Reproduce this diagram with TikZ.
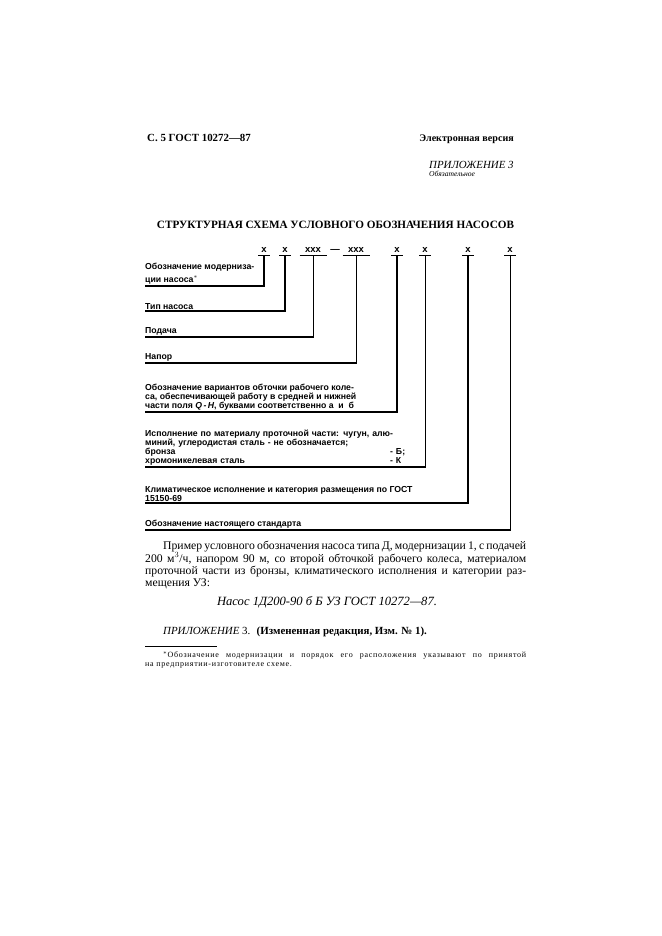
\documentclass[tikz,border=0pt]{standalone}
\usepackage{fontspec}
\setmainfont{Liberation Serif}
\setsansfont{Liberation Sans}
\newfontfamily\notefont[LetterSpace=9]{Liberation Serif}
\usetikzlibrary{positioning}
\usetikzlibrary{calc}
\tikzset{
    markx/.style = {font=\sffamily\bfseries\fontsize{9.5}{10}\selectfont,
        inner xsep=0pt, inner ysep=3pt, anchor=base},% знак позиции
    legend/.style = {font=\sffamily\bfseries\fontsize{8.7}{9}\selectfont,
        inner sep=0pt, align=left, anchor=south west},% пояснение
    bar/.style = {line width=1.1pt},% черта под знаком
    lead/.style = {line width=1.3pt},% толстая выноска
    leadthin/.style = {line width=0.7pt},% тонкая выноска
    body/.style = {font=\fontsize{11.7}{12}\selectfont, inner sep=0pt},
}

\begin{document}
\begin{tikzpicture}[x=1pt,y=-1pt]
\useasboundingbox (0,0) rectangle (661,936);
% шапка
\node[body, font=\bfseries\fontsize{10.9}{12}\selectfont, anchor=base west] (head) at (147,142) {С. 5 ГОСТ 10272---87};
\node[body, font=\bfseries\fontsize{10.1}{12}\selectfont, anchor=base east] (ver) at (514,142) {Электронная версия};
\node[body, font=\itshape\fontsize{10.9}{12}\selectfont, anchor=base west] (app) at (429,168) {ПРИЛОЖЕНИЕ 3};
\node[body, font=\itshape\fontsize{7.6}{9}\selectfont, anchor=base west] (oblig) at (429,177) {Обязательное};
\node[body, font=\bfseries\fontsize{11.2}{12}\selectfont, anchor=base] (title) at (335.5,228) {СТРУКТУРНАЯ СХЕМА УСЛОВНОГО ОБОЗНАЧЕНИЯ НАСОСОВ};
% знаки
\node[markx] (m1) at (264,252) {x};
\node[markx] (m2) at (285,252) {x};
\node[markx] (m3) at (313,252) {xxx};
\node[markx] (dash) at (335,252) {---};
\node[markx] (m4) at (356,252) {xxx};
\node[markx] (m5) at (397,252) {x};
\node[markx] (m6) at (425,252) {x};
\node[markx] (m7) at (468,252) {x};
\node[markx] (m8) at (510,252) {x};
\foreach \m in {m1,m2,m5,m6,m7,m8}
    \draw[bar] ([xshift=-6pt]\m.south) -- ([xshift=6pt]\m.south);
\foreach \m in {m3,m4}
    \draw[bar] ([xshift=-13.5pt]\m.south) -- ([xshift=13.5pt]\m.south);
% пояснения
\node[legend] (l1) at (145,284.5) {Обозначение модерниза-\\[4pt]ции насоса$^{\ast}$};
\node[legend] (l2) at (145,309.5) {Тип насоса};
\node[legend] (l3) at (145,335.5) {Подача};
\node[legend] (l4) at (145,361.5) {Напор};
\node[legend] (l5) at (145,410.5) {Обозначение вариантов обточки рабочего коле-\\
    са, обеспечивающей работу в средней и нижней\\
    части поля \textit{Q\,-\,H}, буквами соответственно а\ \ и\ \ б};
\node[legend, text width=257pt] (l6) at (145,465.5) {Исполнение по материалу проточной части: чугун, алю-\\
    миний, углеродистая сталь - не обозначается;\\
    бронза\hfill\makebox[12pt][l]{- Б;}\\
    хромоникелевая сталь\hfill\makebox[12pt][l]{- К}};
\node[legend] (l7) at (145,501.5) {Климатическое исполнение и категория размещения по ГОСТ\\
    15150-69};
\node[legend] (l8) at (145,528.5) {Обозначение настоящего стандарта};
% выноски
\coordinate (e1) at (145,286);
\coordinate (e2) at (145,311);
\coordinate (e3) at (145,337);
\coordinate (e4) at (145,363);
\coordinate (e5) at (145,412);
\coordinate (e6) at (145,467);
\coordinate (e7) at (145,503);
\coordinate (e8) at (145,530);
\draw[lead] (e1) -| (m1.south);
\draw[lead] (e2) -| (m2.south);
\draw[leadthin] (m3.south) |- (e3);
\draw[leadthin] (m4.south) |- (e4);
\draw[lead] (m5.south) |- (e5);
\draw[leadthin] (m6.south) |- (e6);
\draw[lead] (m7.south) |- (e7);
\draw[leadthin] (m8.south) |- (e8);
\draw[bar] (e3) -- (e3 -| m3.south);
\draw[bar] (e4) -- (e4 -| m4.south);
\draw[bar] (e6) -- (e6 -| m6.south);
\draw[bar] (e8) -- (e8 -| m8.south);
% пример
\node[body, text width=381pt, align=justify, anchor=base west] (ex) at (145,549) {\hspace*{18pt}Пример условного обозначения насоса типа Д, модернизации 1, с подачей\linebreak
    200 м$^3$/ч, напором 90 м, со второй обточкой рабочего колеса, материалом\linebreak
    проточной части из бронзы, климатического исполнения и категории раз-\linebreak
    мещения УЗ:};
\node[body, font=\itshape\fontsize{12.6}{13}\selectfont, anchor=base] (formula) at (327,605) {Насос 1Д200-90 б Б УЗ ГОСТ 10272---87.};
\node[body, font=\fontsize{10.9}{12}\selectfont, anchor=base west] (change) at (163,634) {\textit{ПРИЛОЖЕНИЕ} 3. \ \textbf{(Измененная редакция, Изм. № 1).}};
% сноска
\coordinate (fn1) at (145,646);
\coordinate (fn2) at (217,646);
\draw[line width=0.8pt] (fn1) -- (fn2);
\node[inner sep=0pt, text width=381pt, align=justify, anchor=base west,
    font=\notefont\fontsize{8}{9}\selectfont] (note) at (145,657) {\hspace*{18pt}$^{\ast}$Обозначение модернизации и порядок его расположения указывают по принятой\linebreak
    на предприятии-изготовителе схеме.};
\end{tikzpicture}
\end{document}
